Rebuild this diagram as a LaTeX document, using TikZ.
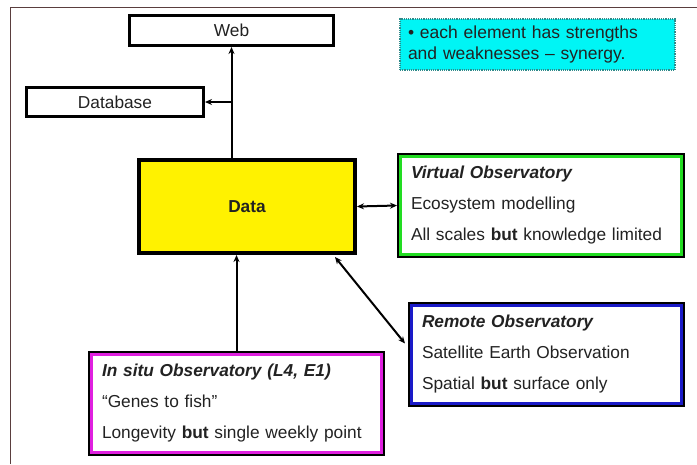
\documentclass[tikz,border=0pt]{standalone}
\usepackage{fontspec}
\setmainfont{Liberation Sans}
\usetikzlibrary{arrows.meta}
\definecolor{inkgrey}{HTML}{222222}
\definecolor{framebrown}{HTML}{5A3E3E}
\definecolor{vogreen}{HTML}{22DD22}
\definecolor{roblue}{HTML}{1A1AC8}
\definecolor{ismagenta}{HTML}{E020E0}
\definecolor{noteteal}{HTML}{2E8A8A}
\definecolor{notecyan}{HTML}{00F5F5}
\tikzset{
  plainbox/.style={draw=black,line width=3pt,fill=white,text=inkgrey,font=\fontsize{17.3}{20}\selectfont},
  obsbox/.style={draw=black,line width=4pt,fill=white,text=inkgrey,align=left,inner xsep=12pt,
    font=\fontsize{17.3}{31}\selectfont},
  link/.style={line width=2pt,>={Stealth[length=7pt,width=6pt]}}
}
\newcommand{\innerframe}[2]{% colour, node
  \draw[#1,line width=3pt] ([shift={(3.5pt,3.5pt)}]#2.south west) rectangle ([shift={(-3.5pt,-3.5pt)}]#2.north east);}
\begin{document}
\begin{tikzpicture}[x=1pt,y=-1pt]
\useasboundingbox (0,0) rectangle (697,464);
\fill[white] (0,0) rectangle (697,464);
\draw[framebrown,line width=1pt] (10,464) -- (10,7) -- (697,7);

\node[plainbox,minimum width=204pt,minimum height=30pt] (web) at (231.5,30.5) {Web};
\node[plainbox,minimum width=177pt,minimum height=29pt] (db) at (115,102) {Database};
\node[draw=black,line width=4pt,fill=yellow,text=inkgrey,minimum width=216pt,minimum height=93pt,
  font=\fontsize{17.3}{20}\selectfont\bfseries] (data) at (247,206.5) {Data};

\node[obsbox,minimum width=284pt,minimum height=101pt,text width=260pt] (vo) at (541,205.5)
  {\textbf{\textit{Virtual Observatory}}\\Ecosystem modelling\\All scales \textbf{but} knowledge limited};
\innerframe{vogreen}{vo}
\node[obsbox,minimum width=273pt,minimum height=101pt,text width=249pt] (ro) at (546.5,354.5)
  {\textbf{\textit{Remote Observatory}}\\Satellite Earth Observation\\Spatial \textbf{but} surface only};
\innerframe{roblue}{ro}
\node[obsbox,minimum width=293pt,minimum height=101pt,text width=269pt] (is) at (236.5,403.5)
  {\textbf{\textit{In situ Observatory (L4, E1)}}\\``Genes to fish''\\Longevity \textbf{but} single weekly point};
\innerframe{ismagenta}{is}

\node[draw=noteteal,densely dotted,line width=1.2pt,fill=notecyan,text=inkgrey,align=left,
  minimum width=275pt,minimum height=51pt,text width=259pt,inner xsep=8pt,
  font=\fontsize{17.5}{21}\selectfont] (note) at (537.5,44.5)
  {\textbullet\ each element has strengths\\and weaknesses -- synergy.};

% links
\coordinate (jn) at (web.south |- db.east);
\draw[link,->] (web.south |- data.north) -- (web.south);
\draw[link,->] (jn) -- (db.east);
\draw[link,<->] (data.east) -- (vo.west);
\draw[link,<->] ([shift={(-22pt,-2pt)}]data.south east) -- ([shift={(-3pt,11pt)}]ro.west);
\draw[link,->] (is.north) -- (is.north |- data.south);
\end{tikzpicture}
\end{document}
